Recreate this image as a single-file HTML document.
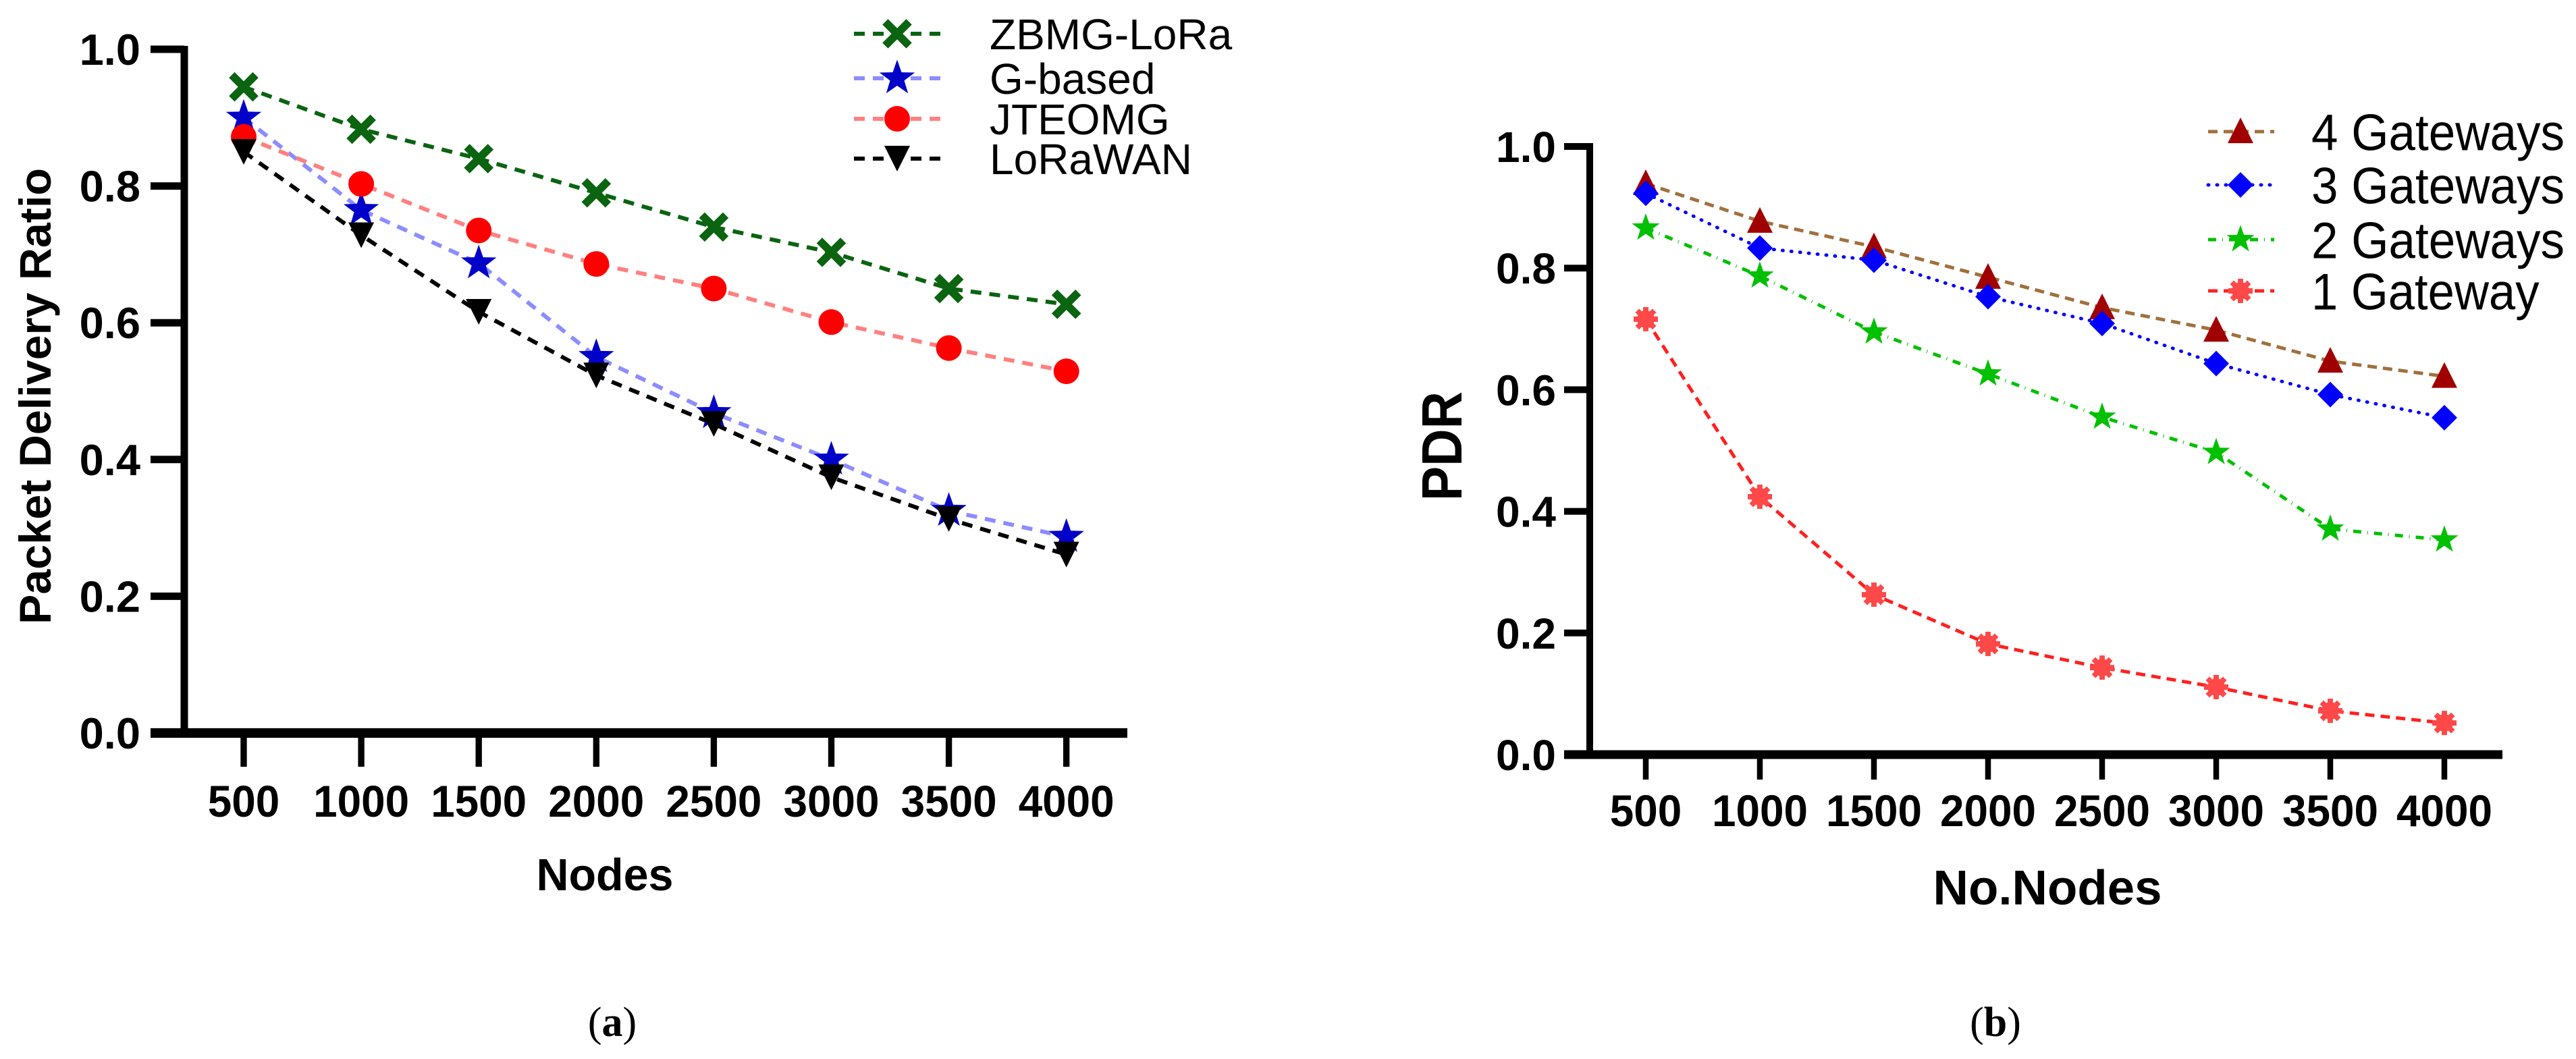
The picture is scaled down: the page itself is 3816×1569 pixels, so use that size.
<!DOCTYPE html>
<html><head><meta charset="utf-8"><style>
html,body{margin:0;padding:0;background:#fff;}
svg{display:block;}
text{font-family:"Liberation Sans",Arial,sans-serif;}
</style></head><body>
<svg id="fig" xmlns="http://www.w3.org/2000/svg" width="3816" height="1569" viewBox="0 0 3816 1569">
<rect width="3816" height="1569" fill="#fff"/>
<g id="chartA"></g>
<g id="chartB"></g>
<text x="907" y="1535" font-size="62" text-anchor="middle" style="font-family:'Liberation Serif',serif">(<tspan font-weight="bold">a</tspan>)</text>
<text x="2956" y="1535" font-size="62" text-anchor="middle" style="font-family:'Liberation Serif',serif">(<tspan font-weight="bold">b</tspan>)</text>
</svg>
<script>
const categories = [500,1000,1500,2000,2500,3000,3500,4000];
const yTicks = [0.0,0.2,0.4,0.6,0.8,1.0];
const yTickLabels = ["0.0","0.2","0.4","0.6","0.8","1.0"];
const zbmg = [0.945,0.883,0.84,0.79,0.74,0.703,0.65,0.627];
const gbased = [0.90,0.765,0.687,0.55,0.468,0.40,0.325,0.287];
const jteomg = [0.872,0.803,0.735,0.686,0.65,0.601,0.563,0.529];
const lorawan = [0.85,0.728,0.616,0.523,0.452,0.374,0.313,0.261];
const gw4 = [0.939,0.877,0.835,0.785,0.735,0.698,0.647,0.622];
const gw3 = [0.923,0.833,0.813,0.753,0.709,0.643,0.592,0.554];
const gw2 = [0.866,0.787,0.695,0.626,0.555,0.497,0.371,0.353];
const gw1 = [0.716,0.424,0.263,0.182,0.143,0.111,0.072,0.052];

const NS = "http://www.w3.org/2000/svg";
function mk(parent, tag, attrs){
  const e = document.createElementNS(NS, tag);
  for (const k in attrs) e.setAttribute(k, attrs[k]);
  parent.appendChild(e);
  return e;
}
function marker(g, type, x, y, s, color){
  let e;
  if (type==='x'){
    const d = s*0.42;
    e = mk(g,'path',{d:`M${x-d},${y-d}L${x+d},${y+d}M${x-d},${y+d}L${x+d},${y-d}`,stroke:color,'stroke-width':s*0.28,fill:'none'});
  } else if (type==='circle'){
    e = mk(g,'circle',{cx:x,cy:y,r:s/2,fill:color});
  } else if (type==='star'){
    let p=[];
    for(let i=0;i<10;i++){const r=i%2?s*0.24:s*0.6;const a=-Math.PI/2+i*Math.PI/5;p.push((x+r*Math.cos(a)).toFixed(1)+','+(y+r*Math.sin(a)).toFixed(1));}
    e = mk(g,'polygon',{points:p.join(' '),fill:color});
  } else if (type==='tridown'){
    const h=s*0.5;
    e = mk(g,'polygon',{points:`${x-h},${y-h} ${x+h},${y-h} ${x},${y+h}`,fill:color});
  } else if (type==='triup'){
    const h=s*0.5;
    e = mk(g,'polygon',{points:`${x-h},${y+h*0.9} ${x+h},${y+h*0.9} ${x},${y-h*1.1}`,fill:color});
  } else if (type==='diamond'){
    const h=s*0.5;
    e = mk(g,'polygon',{points:`${x},${y-h} ${x+h},${y} ${x},${y+h} ${x-h},${y}`,fill:color});
  } else if (type==='sun'){
    e = mk(g,'g',{});
    mk(e,'circle',{cx:x,cy:y,r:s*0.36,fill:color});
    for(let i=0;i<8;i++){const a=i*Math.PI/4;mk(e,'line',{x1:x,y1:y,x2:x+s*0.5*Math.cos(a),y2:y+s*0.5*Math.sin(a),stroke:color,'stroke-width':s*0.22});}
  }
  return e;
}

function drawChart(g, cfg){
  const xs = v => cfg.x0 + (categories.indexOf(v))*cfg.dx;
  const ys = v => cfg.y0 - v*cfg.yScale;
  const yAxis = mk(g,'line',{x1:cfg.ax,y1:ys(1.0)-5,x2:cfg.ax,y2:ys(0)+5,stroke:'#000','stroke-width':cfg.aw});
  
  
  const xAxis = mk(g,'line',{x1:cfg.tickLeft,y1:ys(0),x2:cfg.xEnd,y2:ys(0),stroke:'#000','stroke-width':cfg.aw*1.3});
  
  
  yTicks.forEach((t,i)=>{
    const tk = mk(g,'line',{x1:cfg.tickLeft,y1:ys(t),x2:cfg.ax,y2:ys(t),stroke:'#000','stroke-width':cfg.aw});
    
    
    const tl = mk(g,'text',{x:cfg.ylabRight,y:ys(t)+23,'font-size':cfg.yfs,'font-weight':'bold','text-anchor':'end'});
    tl.textContent = yTickLabels[i];
    
    
  });
  categories.forEach(c=>{
    const tk = mk(g,'line',{x1:xs(c),y1:ys(0),x2:xs(c),y2:cfg.tickBottom,stroke:'#000','stroke-width':cfg.aw*0.85});
    
    
    const s = String(c);
    const tl = mk(g,'text',{x:xs(c),y:cfg.xlabY+24,'font-size':66,'font-weight':'bold','text-anchor':'middle',textLength:s.length*35.5,lengthAdjust:'spacingAndGlyphs'});
    tl.textContent = s;
    
    
  });
  const xt = mk(g,'text',{x:cfg.xtX,y:cfg.xtY+cfg.xtCap/2,'font-size':cfg.xtCap/0.72,'font-weight':'bold','text-anchor':'middle',textLength:cfg.xtW,lengthAdjust:'spacingAndGlyphs'});
  xt.textContent = cfg.xTitle;
  
  
  const yt = mk(g,'text',{x:0,y:0,'font-size':cfg.ytfs,'font-weight':'bold','text-anchor':'middle',textLength:cfg.ytW,lengthAdjust:'spacingAndGlyphs',transform:`translate(${cfg.ytX},${cfg.ytY}) rotate(-90)`});
  yt.textContent = cfg.yTitle;
  
  

  cfg.series.forEach(s=>{
    const sg = mk(g,'g',{});
    
    
    const pts = s.values.map((v,i)=>xs(categories[i])+','+ys(v)).join(' ');
    const ln = mk(sg,'polyline',{points:pts,fill:'none',stroke:s.line,'stroke-width':s.lw,'stroke-dasharray':s.dash,'stroke-linecap':s.cap||'butt'});
    
    
    s.values.forEach((v,i)=>{
      const m = marker(sg, s.type, xs(categories[i]), ys(v), s.size, s.mc);
      
      
    });
    // legend
    const lg = mk(g,'g',{});
    
    
    const ly = s.ly;
    const ll = mk(lg,'line',{x1:cfg.legL,y1:ly,x2:cfg.legR,y2:ly,stroke:s.line,'stroke-width':s.lw,'stroke-dasharray':s.dash,'stroke-linecap':s.cap||'butt'});
    
    
    const lm = marker(lg, s.type, cfg.legM, ly, s.size, s.mc);
    
    
    const lt = mk(lg,'text',{x:cfg.legT,y:ly+cfg.legFs*0.36,'font-size':cfg.legFs});
    lt.textContent = s.name;
    if (cfg.legCond) { lt.setAttribute('textLength', s.name.length*cfg.legCond); lt.setAttribute('lengthAdjust','spacingAndGlyphs'); }
    
    
  });
}

drawChart(document.getElementById('chartA'), {
  x0:361, dx:174.1, y0:1086, yScale:1013, ax:273, aw:11, tickLeft:223, xEnd:1670, tickBottom:1136,
  ylabRight:208, yfs:65, xlabY:1186, xTitle:'Nodes', xtX:896, xtY:1295, xtCap:48, xtW:203,
  yTitle:'Packet Delivery Ratio', ytX:75, ytY:587, ytfs:66, ytW:676,
  legL:1265, legR:1393, legM:1329, legT:1466, legFs:64,
  series:[
    {key:'zbmg-lora',name:'ZBMG-LoRa',values:zbmg,type:'x',size:42,mc:'#0a6410',line:'#0a6410',lw:6,dash:'16 12',ly:50},
    {key:'g-based',name:'G-based',values:gbased,type:'star',size:46,mc:'#0000c8',line:'#8c8cff',lw:6,dash:'16 12',ly:116},
    {key:'jteomg',name:'JTEOMG',values:jteomg,type:'circle',size:38,mc:'#ff0000',line:'#ff8080',lw:6,dash:'16 12',ly:176},
    {key:'lorawan',name:'LoRaWAN',values:lorawan,type:'tridown',size:38,mc:'#000',line:'#000',lw:6,dash:'16 12',ly:235}
  ]
});
drawChart(document.getElementById('chartB'), {
  x0:2438, dx:169, y0:1118, yScale:901, ax:2355, aw:10, tickLeft:2317, xEnd:3707, tickBottom:1155,
  ylabRight:2305, yfs:64, xlabY:1200, xTitle:'No.Nodes', xtX:3033, xtY:1314, xtCap:52, xtW:339,
  yTitle:'PDR', ytX:2165, ytY:661, ytfs:84, ytW:162,
  legL:3271, legR:3369, legM:3319, legT:3424, legFs:76, legCond:37.5,
  series:[
    {key:'4-gateways',name:'4 Gateways',values:gw4,type:'triup',size:38,mc:'#a00000',line:'#a0703c',lw:5,dash:'14 9',ly:195},
    {key:'3-gateways',name:'3 Gateways',values:gw3,type:'diamond',size:38,mc:'#0000ff',line:'#0000ff',lw:5,dash:'1 12',cap:'round',ly:274},
    {key:'2-gateways',name:'2 Gateways',values:gw2,type:'star',size:36,mc:'#00c000',line:'#00c000',lw:5,dash:'12 9 1 9',ly:355},
    {key:'1-gateway',name:'1 Gateway',values:gw1,type:'sun',size:36,mc:'#ff4848',line:'#ff2020',lw:5,dash:'14 9',ly:431}
  ]
});
</script>
</body></html>
